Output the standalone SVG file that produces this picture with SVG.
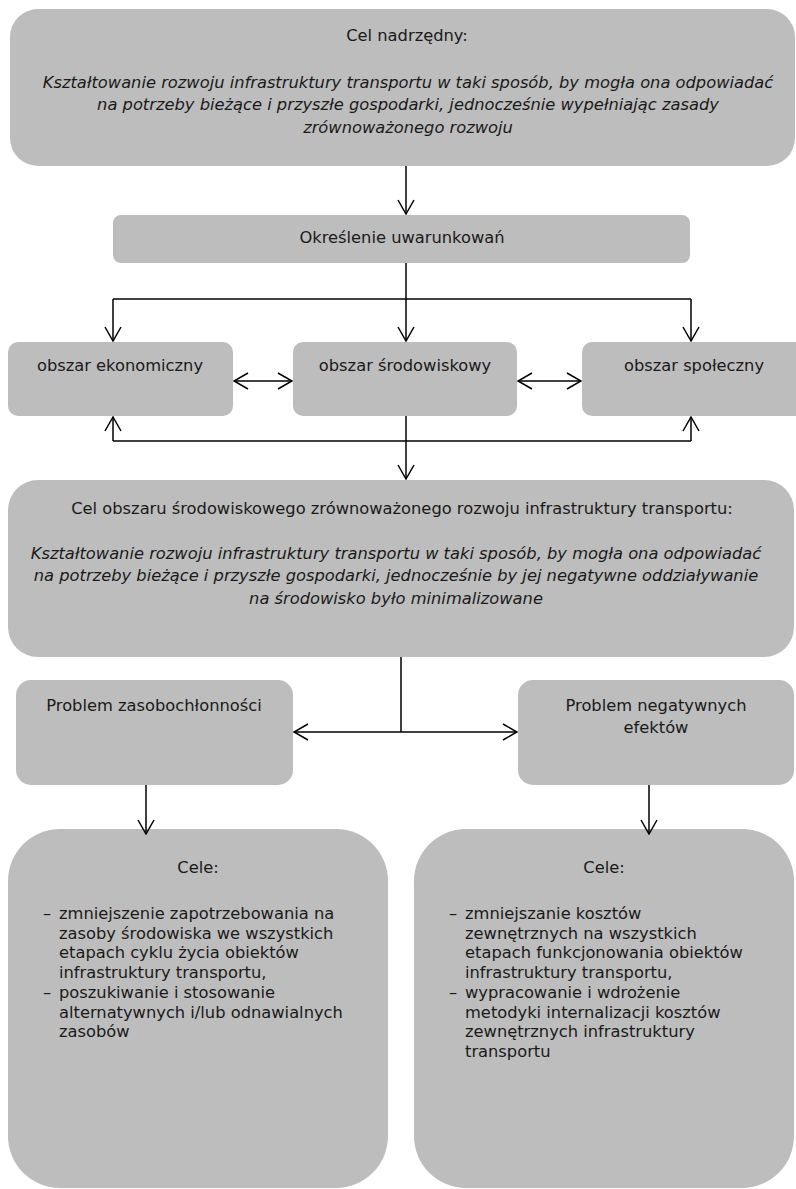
<svg xmlns="http://www.w3.org/2000/svg" width="796" height="1189" viewBox="0 0 796 1189">
<style>
.box{fill:#bdbdbd;}
.t{font-family:"DejaVu Sans","Liberation Sans",sans-serif;font-size:16.3px;fill:#1a1a1a;}
.c{text-anchor:middle;}
.i{font-style:italic;}
.ln{fill:none;stroke:#000;stroke-width:1.5;}
</style>
<defs>
<marker id="ah" viewBox="0 0 16 18" refX="15" refY="9" markerWidth="16" markerHeight="18" markerUnits="userSpaceOnUse" orient="auto-start-reverse">
<path d="M1,1 L15,9 L1,17" fill="none" stroke="#000" stroke-width="1.5"/>
</marker>
</defs>
<rect width="796" height="1189" fill="#fff"/>
<g id="n1">
<rect class="box" x="10" y="9" width="785" height="157" rx="28"/>
<text class="t c" x="407" y="41">Cel nadrzędny:</text>
<text class="t c i" x="408" y="88">Kształtowanie rozwoju infrastruktury transportu w taki sposób, by mogła ona odpowiadać</text>
<text class="t c i" x="408" y="110">na potrzeby bieżące i przyszłe gospodarki, jednocześnie wypełniając zasady</text>
<text class="t c i" x="408" y="133">zrównoważonego rozwoju</text>
</g>
<g id="n2">
<rect class="box" x="113" y="215" width="577" height="48" rx="8"/>
<text class="t c" x="402" y="243">Określenie uwarunkowań</text>
</g>
<g id="n3a">
<rect class="box" x="8" y="342" width="225" height="74" rx="10"/>
<text class="t c" x="120" y="371">obszar ekonomiczny</text>
</g>
<g id="n3b">
<rect class="box" x="293" y="342" width="224" height="74" rx="10"/>
<text class="t c" x="405" y="371">obszar środowiskowy</text>
</g>
<g id="n3c">
<rect class="box" x="582" y="342" width="224" height="74" rx="10"/>
<text class="t c" x="694" y="371">obszar społeczny</text>
</g>
<g id="n4">
<rect class="box" x="8" y="480" width="786" height="177" rx="30"/>
<text class="t c" x="402" y="514">Cel obszaru środowiskowego zrównoważonego rozwoju infrastruktury transportu:</text>
<text class="t c i" x="396" y="559">Kształtowanie rozwoju infrastruktury transportu w taki sposób, by mogła ona odpowiadać</text>
<text class="t c i" x="396" y="581">na potrzeby bieżące i przyszłe gospodarki, jednocześnie by jej negatywne oddziaływanie</text>
<text class="t c i" x="396" y="604">na środowisko było minimalizowane</text>
</g>
<g id="n5a">
<rect class="box" x="16" y="680" width="277" height="105" rx="15"/>
<text class="t c" x="154" y="711">Problem zasobochłonności</text>
</g>
<g id="n5b">
<rect class="box" x="518" y="680" width="276" height="105" rx="15"/>
<text class="t c" x="656" y="711">Problem negatywnych</text>
<text class="t c" x="656" y="733">efektów</text>
</g>
<g id="n6a">
<rect class="box" x="8" y="829" width="380" height="359" rx="52"/>
<text class="t c" x="198" y="873">Cele:</text>
<text class="t" x="43" y="919">–</text>
<text class="t" x="59" y="919">zmniejszenie zapotrzebowania na</text>
<text class="t" x="59" y="938.5">zasoby środowiska we wszystkich</text>
<text class="t" x="59" y="958">etapach cyklu życia obiektów</text>
<text class="t" x="59" y="978">infrastruktury transportu,</text>
<text class="t" x="43" y="998">–</text>
<text class="t" x="59" y="998">poszukiwanie i stosowanie</text>
<text class="t" x="59" y="1018">alternatywnych i/lub odnawialnych</text>
<text class="t" x="59" y="1037">zasobów</text>
</g>
<g id="n6b">
<rect class="box" x="414" y="829" width="380" height="359" rx="52"/>
<text class="t c" x="604" y="873">Cele:</text>
<text class="t" x="449" y="919">–</text>
<text class="t" x="465" y="919">zmniejszanie kosztów</text>
<text class="t" x="465" y="938.5">zewnętrznych na wszystkich</text>
<text class="t" x="465" y="958">etapach funkcjonowania obiektów</text>
<text class="t" x="465" y="978">infrastruktury transportu,</text>
<text class="t" x="449" y="998">–</text>
<text class="t" x="465" y="998">wypracowanie i wdrożenie</text>
<text class="t" x="465" y="1018">metodyki internalizacji kosztów</text>
<text class="t" x="465" y="1037">zewnętrznych infrastruktury</text>
<text class="t" x="465" y="1057">transportu</text>
</g>
<g id="connectors">
<path class="ln" d="M406,166 V214" marker-end="url(#ah)"/>
<path class="ln" d="M406,263 V341" marker-end="url(#ah)"/>
<path class="ln" d="M113,299 H691"/>
<path class="ln" d="M113,299 V341" marker-end="url(#ah)"/>
<path class="ln" d="M691,299 V341" marker-end="url(#ah)"/>
<path class="ln" d="M234,381 H292" marker-start="url(#ah)" marker-end="url(#ah)"/>
<path class="ln" d="M518,381 H581" marker-start="url(#ah)" marker-end="url(#ah)"/>
<path class="ln" d="M113,441 H691"/>
<path class="ln" d="M113,441 V417" marker-end="url(#ah)"/>
<path class="ln" d="M691,441 V417" marker-end="url(#ah)"/>
<path class="ln" d="M406,416 V479" marker-end="url(#ah)"/>
<path class="ln" d="M401,657 V732"/>
<path class="ln" d="M294,732 H517" marker-start="url(#ah)" marker-end="url(#ah)"/>
<path class="ln" d="M146,785 V834" marker-end="url(#ah)"/>
<path class="ln" d="M649,785 V834" marker-end="url(#ah)"/>
</g>
</svg>
